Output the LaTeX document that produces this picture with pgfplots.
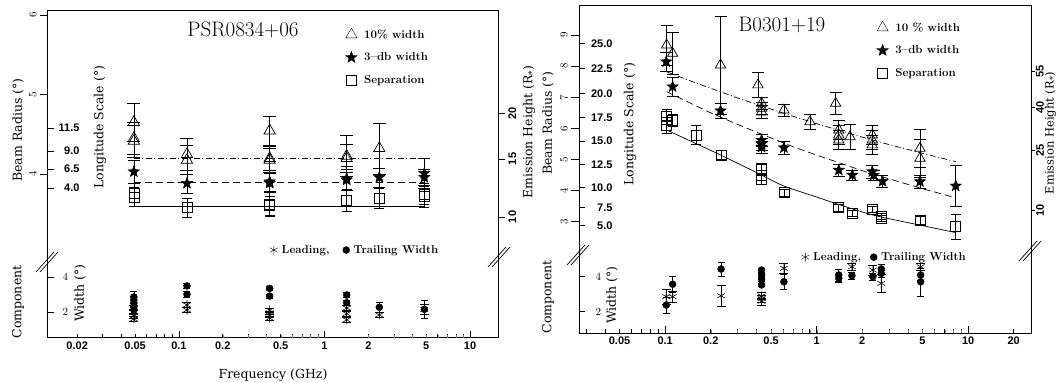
\documentclass[border=0pt]{standalone}
\usepackage{fontspec}
\usepackage{pgfplots}
\pgfplotsset{compat=1.18}
\newfontfamily\lblfont{DejaVu Serif}
\newfontfamily\tkfont{Liberation Sans}
\newcommand\tickf{\tkfont\bfseries\fontsize{11}{12}\selectfont}
\newcommand\lblf{\lblfont\fontsize{12.5}{14}\selectfont}
\newcommand\legf{\rmfamily\bfseries\fontsize{11.5}{13}\selectfont}
\newcommand\titf{\rmfamily\fontsize{21}{24}\selectfont}

\pgfdeclareplotmark{fstar}{%
 \pgfpathmoveto{\pgfpointpolar{90}{\pgfplotmarksize}}%
 \pgfpathlineto{\pgfpointpolar{126}{0.42\pgfplotmarksize}}%
 \pgfpathlineto{\pgfpointpolar{162}{\pgfplotmarksize}}%
 \pgfpathlineto{\pgfpointpolar{198}{0.42\pgfplotmarksize}}%
 \pgfpathlineto{\pgfpointpolar{234}{\pgfplotmarksize}}%
 \pgfpathlineto{\pgfpointpolar{270}{0.42\pgfplotmarksize}}%
 \pgfpathlineto{\pgfpointpolar{306}{\pgfplotmarksize}}%
 \pgfpathlineto{\pgfpointpolar{342}{0.42\pgfplotmarksize}}%
 \pgfpathlineto{\pgfpointpolar{18}{\pgfplotmarksize}}%
 \pgfpathlineto{\pgfpointpolar{54}{0.42\pgfplotmarksize}}%
 \pgfpathclose
 \pgfusepathqfillstroke}

\begin{document}
\begin{tikzpicture}[x=1pt,y=1pt]
\useasboundingbox (0,0) rectangle (1058,383);

%================ LEFT PANEL ================
\begin{semilogxaxis}[scale only axis, at={(48pt,45pt)}, anchor=south west,
  width=451pt, height=327pt, xmin=0.0126, xmax=15.8, ymin=1.937, ymax=6.05,
  axis line style={line width=1pt}, ytick=\empty,
  xtick pos=left, tick align=inside, major tick length=4pt, minor tick length=4pt,
  major tick style={line width=0.7pt, black}, minor tick style={line width=0.7pt, black},
  xtick={0.02,0.05,0.1,0.2,0.5,1,2,5,10},
  xticklabels={0.02,0.05,0.1,0.2,0.5,1,2,5,10},
  minor xtick={0.03,0.04,0.06,0.07,0.08,0.09,0.3,0.4,0.6,0.7,0.8,0.9,3,4,6,7,8,9},
  xticklabel style={font=\tickf},
  legend cell align=left,
  legend style={draw=none, fill=none, font=\legf, row sep=9pt, at={(rel axis cs:0.653,0.956)}, anchor=north west,
  /tikz/every odd column/.append style={column sep=5pt}}]
\addlegendimage{only marks, mark=triangle, mark size=6.5pt, black}
\addlegendentry{10\% width}
\addlegendimage{only marks, mark=fstar, mark size=6pt, black, mark options={fill=black}}
\addlegendentry{3--db width}
\addlegendimage{only marks, mark=square, mark size=5pt, black}
\addlegendentry{Separation}
\addplot[black, line width=0.7pt, dash pattern=on 6pt off 2.5pt on 1pt off 2.5pt, forget plot] coordinates {(0.049,4.197) (4.85,4.197)};
\addplot[black, line width=0.7pt, dash pattern=on 7pt off 4pt, forget plot] coordinates {(0.049,3.895) (4.85,3.895)};
\addplot[black, line width=0.7pt, forget plot] coordinates {(0.049,3.589) (4.85,3.589)};
\addplot[only marks, mark=triangle, mark size=6.5pt, black, mark options={line width=0.7pt}, forget plot,
  error bars/.cd, y dir=both, y explicit, error bar style={line width=0.6pt}] coordinates {
 (0.049,4.650) +- (0,0.24) (0.049,4.449) +- (0,0.20) (0.049,4.415) +- (0,0.20)
 (0.1135,4.248) +- (0,0.20) (0.1135,4.176) +- (0,0.18)
 (0.42,4.545) +- (0,0.18) (0.42,4.197) +- (0,0.15) (0.42,4.175) +- (0,0.15)
 (1.42,4.226) +- (0,0.26) (1.42,4.197) +- (0,0.18)
 (2.38,4.323) +- (0,0.32)};
\addplot[only marks, mark=fstar, mark size=6pt, black, mark options={fill=black}, forget plot,
  error bars/.cd, y dir=both, y explicit, error bar style={line width=0.6pt}] coordinates {
 (0.049,4.029) +- (0,0.15) (0.1135,3.883) +- (0,0.12)
 (0.42,3.903) +- (0,0.12) (0.42,3.885) +- (0,0.12)
 (1.42,3.945) +- (0,0.15) (1.42,3.925) +- (0,0.13)
 (2.38,3.958) +- (0,0.12)
 (4.85,4.009) +- (0,0.19) (4.85,3.958) +- (0,0.10)};
\addplot[only marks, mark=square, mark size=5pt, black, mark options={line width=0.7pt}, forget plot,
  error bars/.cd, y dir=both, y explicit, error bar style={line width=0.6pt}] coordinates {
 (0.049,3.76) +- (0,0.12) (0.049,3.71) +- (0,0.12)
 (0.1135,3.581) +- (0,0.12)
 (0.42,3.618) +- (0,0.15) (0.42,3.600) +- (0,0.12)
 (1.42,3.673) +- (0,0.14) (2.38,3.694) +- (0,0.13)
 (4.85,3.748) +- (0,0.13) (4.85,3.714) +- (0,0.13)};
\end{semilogxaxis}
% decade ticks (longer)
\begin{semilogxaxis}[scale only axis, at={(48pt,45pt)}, anchor=south west,
  width=451pt, height=327pt, xmin=0.0126, xmax=15.8, ymin=0, ymax=1,
  axis line style={draw=none}, ytick=\empty, xtick={0.1,1,10}, xticklabels={},
  xtick pos=left, tick align=inside, major tick length=7pt,
  major tick style={line width=0.7pt, black}]
\end{semilogxaxis}
% beam radius ticks
\begin{semilogxaxis}[scale only axis, at={(48pt,45pt)}, anchor=south west,
  width=451pt, height=327pt, xmin=0.0126, xmax=15.8, ymin=1.937, ymax=6.05,
  axis line style={draw=none}, xtick=\empty, ytick={4,5,6}, ytick pos=left,
  tick align=outside, major tick length=8pt, major tick style={line width=0.7pt, black},
  yticklabel style={font=\tickf, rotate=90, anchor=south}]
\end{semilogxaxis}
% longitude scale ticks
\begin{semilogxaxis}[scale only axis, at={(48pt,45pt)}, anchor=south west,
  width=451pt, height=327pt, xmin=0.0126, xmax=15.8, ymin=1.937, ymax=6.05,
  axis line style={draw=none}, xtick=\empty, ytick={3.824,4.063,4.289,4.579},
  yticklabels={4.0,6.5,9.0,11.5}, ytick pos=left, tick align=inside, major tick length=6pt,
  major tick style={line width=0.7pt, black},
  yticklabel style={font=\tickf, anchor=east, xshift=35pt}]
\end{semilogxaxis}
% emission height ticks
\begin{semilogxaxis}[scale only axis, at={(48pt,45pt)}, anchor=south west,
  width=451pt, height=327pt, xmin=0.0126, xmax=15.8, ymin=1.937, ymax=6.05,
  axis line style={draw=none}, xtick=\empty, ytick={3.459,4.189,4.767},
  yticklabels={10,15,20}, ytick pos=right, tick align=outside, major tick length=6pt,
  major tick style={line width=0.7pt, black},
  yticklabel style={font=\tickf, rotate=90, anchor=north}]
\end{semilogxaxis}
% component width
\begin{semilogxaxis}[scale only axis, at={(48pt,45pt)}, anchor=south west,
  width=451pt, height=327pt, xmin=0.0126, xmax=15.8, ymin=0.514, ymax=19.2,
  axis line style={draw=none}, xtick=\empty, ytick={2,4}, ytick pos=left,
  tick align=inside, major tick length=6pt, major tick style={line width=0.7pt, black},
  yticklabel style={font=\tickf, anchor=west, xshift=11pt},
  legend columns=2, legend cell align=left,
  legend style={draw=none, fill=none, font=\legf, at={(rel axis cs:0.485,0.269)}, anchor=west,
  /tikz/every odd column/.append style={column sep=2pt},
  /tikz/every even column/.append style={column sep=11pt}}]
\addlegendimage{only marks, mark=asterisk, mark size=4.5pt, black}
\addlegendentry{Leading,}
\addlegendimage{only marks, mark=*, mark size=3.5pt, black}
\addlegendentry{Trailing Width}
\addplot[only marks, mark=*, mark size=3.5pt, black, forget plot,
  error bars/.cd, y dir=both, y explicit, error bar style={line width=0.6pt}] coordinates {
 (0.049,2.86) +- (0,0.35) (0.049,2.69) +- (0,0.2) (0.049,2.51) +- (0,0.2)
 (0.049,2.29) +- (0,0.2) (0.049,2.11) +- (0,0.2)
 (0.1135,3.49) +- (0,0.15) (0.1135,3.01) +- (0,0.15)
 (0.42,3.35) +- (0,0.1) (0.42,2.91) +- (0,0.1)
 (1.42,2.97) +- (0,0.15) (1.42,2.53) +- (0,0.15)
 (2.38,2.27) +- (0,0.27) (4.85,2.15) +- (0,0.5)};
\addplot[only marks, mark=asterisk, mark size=4.5pt, black, mark options={line width=0.6pt}, forget plot,
  error bars/.cd, y dir=both, y explicit, error bar style={line width=0.6pt}] coordinates {
 (0.049,2.23) +- (0,0.15) (0.049,2.0) +- (0,0.15) (0.049,1.77) +- (0,0.15) (0.049,1.6) +- (0,0.15)
 (0.1135,2.4) +- (0,0.15) (0.1135,2.11) +- (0,0.15)
 (0.42,2.1) +- (0,0.1) (0.42,1.95) +- (0,0.1) (0.42,1.8) +- (0,0.1) (0.42,1.65) +- (0,0.1)
 (1.42,2.23) +- (0,0.15) (1.42,1.9) +- (0,0.15) (1.42,1.55) +- (0,0.15)
 (2.38,1.83) +- (0,0.15) (4.85,2.15) +- (0,0.3)};
\end{semilogxaxis}

%================ RIGHT PANEL ================
\begin{semilogxaxis}[scale only axis, at={(579pt,50pt)}, anchor=south west,
  width=452pt, height=327pt, xmin=0.027, xmax=26, ymin=-0.579, ymax=9.936,
  axis line style={line width=1pt}, ytick=\empty,
  xtick pos=left, tick align=inside, major tick length=4pt, minor tick length=4pt,
  major tick style={line width=0.7pt, black}, minor tick style={line width=0.7pt, black},
  xtick={0.05,0.1,0.2,0.5,1,2,5,10,20},
  xticklabels={0.05,0.1,0.2,0.5,1,2,5,10,20},
  minor xtick={0.03,0.04,0.06,0.07,0.08,0.09,0.3,0.4,0.6,0.7,0.8,0.9,3,4,6,7,8,9},
  xticklabel style={font=\tickf},
  legend cell align=left,
  legend style={draw=none, fill=none, font=\legf, row sep=9pt, at={(rel axis cs:0.652,0.962)}, anchor=north west,
  /tikz/every odd column/.append style={column sep=5pt}}]
\addlegendimage{only marks, mark=triangle, mark size=6.5pt, black}
\addlegendentry{10 \% width}
\addlegendimage{only marks, mark=fstar, mark size=6pt, black, mark options={fill=black}}
\addlegendentry{3--db width}
\addlegendimage{only marks, mark=square, mark size=5pt, black}
\addlegendentry{Separation}
\addplot[black, line width=0.7pt, dash pattern=on 6pt off 2.5pt on 1pt off 2.5pt, forget plot] coordinates {
 (0.1023,7.82) (0.15,7.51) (0.2,7.29) (0.3,6.98) (0.5,6.62) (0.7,6.39) (1,6.15) (1.5,5.90) (2,5.72) (3,5.48) (5,5.20) (8.28,4.93)};
\addplot[black, line width=0.7pt, dash pattern=on 7pt off 4pt, forget plot] coordinates {
 (0.1023,7.18) (0.15,6.79) (0.2,6.50) (0.3,6.13) (0.5,5.69) (0.7,5.41) (1,5.14) (1.5,4.85) (2,4.64) (3,4.38) (5,4.06) (7.87,3.80)};
\addplot[black, line width=0.7pt, smooth, forget plot] coordinates {
 (0.1023,5.95) (0.152,5.56) (0.232,5.145) (0.433,4.50) (0.606,4.15) (1.063,3.75) (1.237,3.64) (2.33,3.22) (4.81,2.89) (8.28,2.65)};
\addplot[only marks, mark=triangle, mark size=6pt, black, mark options={line width=0.7pt}, forget plot,
  error bars/.cd, y dir=both, y explicit, error bar style={line width=0.6pt}] coordinates {
 (0.1023,8.68) +- (0,0.64) (0.112,8.415) +- (0,0.665) (0.232,8.04) +- (0,1.57)
 (0.41,7.40) +- (0,0.4) (0.433,6.807) +- (0,0.2) (0.433,6.646) +- (0,0.2) (0.433,6.53) +- (0,0.2)
 (0.608,6.59) +- (0,0.2) (0.903,6.215) +- (0,0.25) (1.335,6.807) +- (0,0.35)
 (1.40,5.95) +- (0,0.3) (1.40,5.79) +- (0,0.3) (1.40,5.63) +- (0,0.3)
 (1.66,5.73) +- (0,0.4)
 (2.33,5.79) +- (0,0.3) (2.33,5.63) +- (0,0.3) (2.33,5.47) +- (0,0.3)
 (4.81,5.36) +- (0,0.6) (4.81,5.04) +- (0,0.6)};
\addplot[only marks, mark=fstar, mark size=6pt, black, mark options={fill=black}, forget plot,
  error bars/.cd, y dir=both, y explicit, error bar style={line width=0.6pt}] coordinates {
 (0.1017,8.145) +- (0,0.3) (0.112,7.34) +- (0,0.3) (0.232,6.569) +- (0,0.25)
 (0.433,5.62) +- (0,0.2) (0.433,5.50) +- (0,0.2) (0.433,5.40) +- (0,0.2)
 (0.608,5.38) +- (0,0.2) (1.40,4.66) +- (0,0.2) (1.72,4.50) +- (0,0.15)
 (2.33,4.61) +- (0,0.2) (2.38,4.50) +- (0,0.15) (2.72,4.30) +- (0,0.2)
 (4.81,4.29) +- (0,0.2) (8.28,4.15) +- (0,0.66)};
\addplot[only marks, mark=square, mark size=5pt, black, mark options={line width=0.7pt}, forget plot,
  error bars/.cd, y dir=both, y explicit, error bar style={line width=0.6pt}] coordinates {
 (0.1023,6.376) +- (0,0.25) (0.1023,6.109) +- (0,0.25) (0.112,6.27) +- (0,0.2)
 (0.16,5.788) +- (0,0.3) (0.234,5.145) +- (0,0.15)
 (0.433,4.70) +- (0,0.15) (0.433,4.50) +- (0,0.15) (0.433,4.35) +- (0,0.15)
 (0.608,3.93) +- (0,0.12) (1.40,3.45) +- (0,0.12) (1.72,3.27) +- (0,0.1)
 (2.33,3.41) +- (0,0.1) (2.69,3.18) +- (0,0.1) (2.69,3.10) +- (0,0.1)
 (4.81,3.05) +- (0,0.12) (8.28,2.84) +- (0,0.4)};
\end{semilogxaxis}
\begin{semilogxaxis}[scale only axis, at={(579pt,50pt)}, anchor=south west,
  width=452pt, height=327pt, xmin=0.027, xmax=26, ymin=0, ymax=1,
  axis line style={draw=none}, ytick=\empty, xtick={0.1,1,10}, xticklabels={},
  xtick pos=left, tick align=inside, major tick length=7pt,
  major tick style={line width=0.7pt, black}]
\end{semilogxaxis}
\begin{semilogxaxis}[scale only axis, at={(579pt,50pt)}, anchor=south west,
  width=452pt, height=327pt, xmin=0.027, xmax=26, ymin=-0.579, ymax=9.936,
  axis line style={draw=none}, xtick=\empty, ytick={3,4,5,6,7,8,9}, ytick pos=left,
  tick align=outside, major tick length=8pt, major tick style={line width=0.7pt, black},
  yticklabel style={font=\tickf, rotate=90, anchor=south}]
\end{semilogxaxis}
\begin{semilogxaxis}[scale only axis, at={(579pt,50pt)}, anchor=south west,
  width=452pt, height=327pt, xmin=0.027, xmax=26, ymin=-0.579, ymax=9.936,
  axis line style={draw=none}, xtick=\empty,
  ytick={2.871,3.463,4.106,4.846,5.595,6.357,7.129,7.932,8.736},
  yticklabels={5.0,7.5,10.0,12.5,15.0,17.5,20.0,22.5,25.0}, ytick pos=left,
  tick align=inside, major tick length=6pt, major tick style={line width=0.7pt, black},
  yticklabel style={font=\tickf, anchor=east, xshift=37pt}]
\end{semilogxaxis}
\begin{semilogxaxis}[scale only axis, at={(579pt,50pt)}, anchor=south west,
  width=452pt, height=327pt, xmin=0.027, xmax=26, ymin=-0.579, ymax=9.936,
  axis line style={draw=none}, xtick=\empty, ytick={3.376,5.283,6.678,7.823},
  yticklabels={10,25,40,55}, ytick pos=right, tick align=outside, major tick length=4pt,
  major tick style={line width=0.7pt, black},
  yticklabel style={font=\tickf, rotate=90, anchor=north, inner sep=1pt}]
\end{semilogxaxis}
\begin{semilogxaxis}[scale only axis, at={(579pt,50pt)}, anchor=south west,
  width=452pt, height=327pt, xmin=0.027, xmax=26, ymin=0.783, ymax=19.47,
  axis line style={draw=none}, xtick=\empty, ytick={2,4}, ytick pos=left,
  tick align=inside, major tick length=6pt, major tick style={line width=0.7pt, black},
  yticklabel style={font=\tickf, anchor=west, xshift=13pt},
  legend columns=2, legend cell align=left,
  legend style={draw=none, fill=none, font=\legf, at={(rel axis cs:0.485,0.232)}, anchor=west,
  /tikz/every odd column/.append style={column sep=2pt},
  /tikz/every even column/.append style={column sep=7pt}}]
\addlegendimage{only marks, mark=asterisk, mark size=4.5pt, black}
\addlegendentry{Leading,}
\addlegendimage{only marks, mark=*, mark size=3.5pt, black}
\addlegendentry{Trailing Width}
\addplot[only marks, mark=*, mark size=3.5pt, black, forget plot,
  error bars/.cd, y dir=both, y explicit, error bar style={line width=0.6pt}] coordinates {
 (0.1017,2.38) +- (0,0.47) (0.112,3.57) +- (0,0.45) (0.234,4.44) +- (0,0.4)
 (0.433,4.38) +- (0,0.1) (0.433,4.10) +- (0,0.1) (0.433,3.87) +- (0,0.1) (0.433,3.53) +- (0,0.1)
 (0.608,3.71) +- (0,0.45) (1.40,4.10) +- (0,0.35) (1.40,3.91) +- (0,0.2)
 (1.71,4.06) +- (0,0.2) (2.35,4.0) +- (0,0.2) (2.67,4.44) +- (0,0.25) (2.67,4.19) +- (0,0.2)
 (4.86,4.10) +- (0,0.3) (4.86,3.71) +- (0,0.8)};
\addplot[only marks, mark=asterisk, mark size=4.5pt, black, mark options={line width=0.6pt}, forget plot,
  error bars/.cd, y dir=both, y explicit, error bar style={line width=0.6pt}] coordinates {
 (0.1017,2.86) +- (0,0.45) (0.112,2.86) +- (0,0.3) (0.234,2.91) +- (0,0.6)
 (0.433,2.9) +- (0,0.2) (0.433,2.75) +- (0,0.2) (0.433,2.6) +- (0,0.2)
 (0.608,4.48) +- (0,0.3) (1.71,4.57) +- (0,0.2) (2.35,4.38) +- (0,0.3)
 (2.67,3.62) +- (0,0.5) (4.86,4.57) +- (0,0.2)};
\end{semilogxaxis}

%================ LABELS ================
\node[font=\titf] at (243,353) {PSR0834+06};
\node[font=\titf] at (782,358) {B0301+19};
\node[font=\lblf, rotate=90] at (18,253) {Beam Radius (°)};
\node[font=\lblf, rotate=90] at (100,256) {Longitude Scale (°)};
\node[font=\lblf, rotate=90] at (18,81) {Component};
\node[font=\lblf, rotate=90] at (80,90) {Width (°)};
\node[font=\lblf, rotate=90] at (529,251) {Emission Height (R\textsubscript{*})};
\node[font=\lblf] at (273,8) {Frequency (GHz)};
\node[font=\lblf, rotate=90] at (548,260) {Beam Radius (°)};
\node[font=\lblf, rotate=90] at (630,259) {Longitude Scale (°)};
\node[font=\lblf, rotate=90] at (548,86) {Component};
\node[font=\lblf, rotate=90] at (612,88) {Width (°)};
\node[font=\lblfont\fontsize{11.5}{13}\selectfont, rotate=90, inner sep=0pt] at (1050.5,250) {Emission Height (R\textsubscript{*})};
% axis break marks
\draw[line width=0.7pt] (36,111)--(54,131) (40,111)--(58,131);
\draw[line width=0.7pt] (488,116)--(506,136) (492,116)--(510,136);
\draw[line width=0.7pt] (567,118)--(585,138) (571,118)--(589,138);
\draw[line width=0.7pt] (1019,122)--(1037,142) (1023,122)--(1041,142);
\end{tikzpicture}
\end{document}
